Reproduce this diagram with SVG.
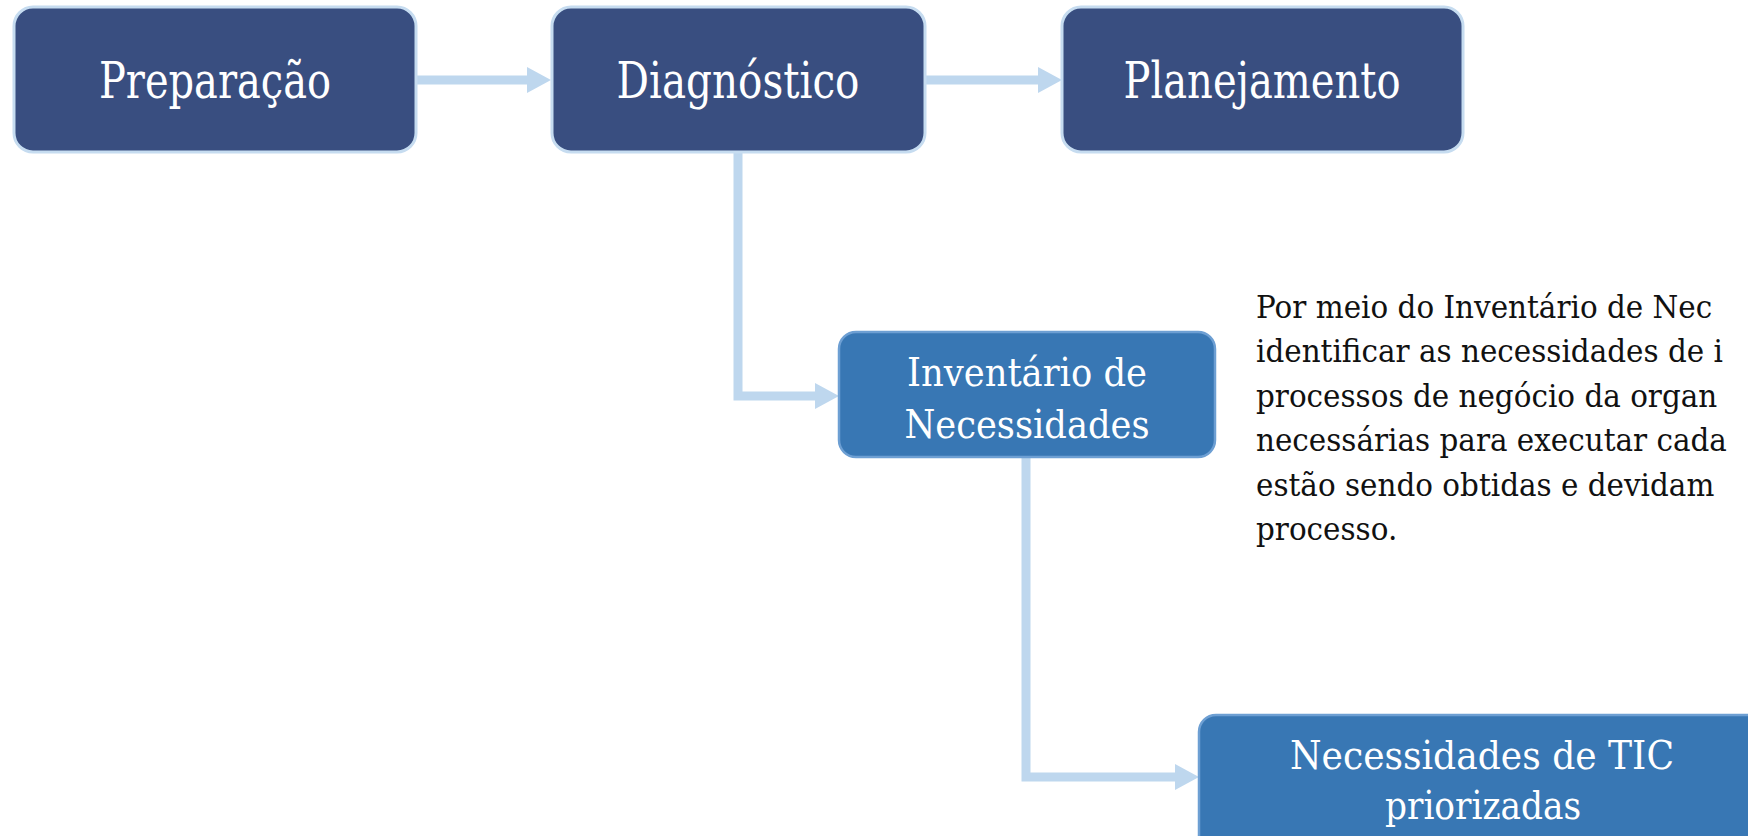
<svg xmlns="http://www.w3.org/2000/svg" width="1748" height="836" viewBox="0 0 1748 836">
<style>
.dark{fill:#394e80;stroke:#c6dcf0;stroke-width:3}
.blue{fill:#3877b4;stroke:#6d9fd3;stroke-width:2.5}
.lbl{font-family:"DejaVu Serif","Liberation Serif",serif;fill:#ffffff;text-anchor:middle}
.big{font-size:50px}
.mid{font-size:40px}
.para{font-family:"DejaVu Serif","Liberation Serif",serif;font-size:32px;fill:#111111}
.conn{fill:none;stroke:#bed7ee;stroke-width:9}
.head{fill:#bed7ee}
</style>
<rect width="1748" height="836" fill="#ffffff"/>
<g id="connectors">
<path class="conn" d="M416,80 H528"/>
<polygon class="head" points="527,67 551,80 527,93"/>
<path class="conn" d="M925,80 H1039"/>
<polygon class="head" points="1038,67 1062,80 1038,93"/>
<path class="conn" d="M738,152 V396 H816"/>
<polygon class="head" points="815,383 839,396 815,409"/>
<path class="conn" d="M1026,457 V777 H1176"/>
<polygon class="head" points="1175,764 1199,777 1175,790"/>
</g>
<g id="node-preparacao">
<rect class="dark" x="14" y="7" width="402" height="145" rx="19"/>
<text class="lbl big" x="215" y="98" textLength="232" lengthAdjust="spacingAndGlyphs">Preparação</text>
</g>
<g id="node-diagnostico">
<rect class="dark" x="552" y="7" width="373" height="145" rx="19"/>
<text class="lbl big" x="738" y="98" textLength="243" lengthAdjust="spacingAndGlyphs">Diagnóstico</text>
</g>
<g id="node-planejamento">
<rect class="dark" x="1062" y="7" width="401" height="145" rx="19"/>
<text class="lbl big" x="1262" y="98" textLength="277" lengthAdjust="spacingAndGlyphs">Planejamento</text>
</g>
<g id="node-inventario">
<rect class="blue" x="839" y="332" width="376" height="125" rx="17"/>
<text class="lbl mid" x="1027" y="386" textLength="240" lengthAdjust="spacingAndGlyphs">Inventário de</text>
<text class="lbl mid" x="1027" y="438" textLength="245" lengthAdjust="spacingAndGlyphs">Necessidades</text>
</g>
<g id="node-tic">
<rect class="blue" x="1199" y="715" width="600" height="150" rx="17"/>
<text class="lbl mid" x="1482" y="769" textLength="384" lengthAdjust="spacingAndGlyphs">Necessidades de TIC</text>
<text class="lbl mid" x="1483" y="819" textLength="196" lengthAdjust="spacingAndGlyphs">priorizadas</text>
</g>
<g id="description" transform="translate(1256,0) scale(0.92,1)">
<text class="para" x="0" y="318">Por meio do Inventário de Nec</text>
<text class="para" x="0" y="362">identificar as necessidades de i</text>
<text class="para" x="0" y="407">processos de negócio da organ</text>
<text class="para" x="0" y="451">necessárias para executar cada</text>
<text class="para" x="0" y="496">estão sendo obtidas e devidam</text>
<text class="para" x="0" y="540">processo.</text>
</g>
</svg>
